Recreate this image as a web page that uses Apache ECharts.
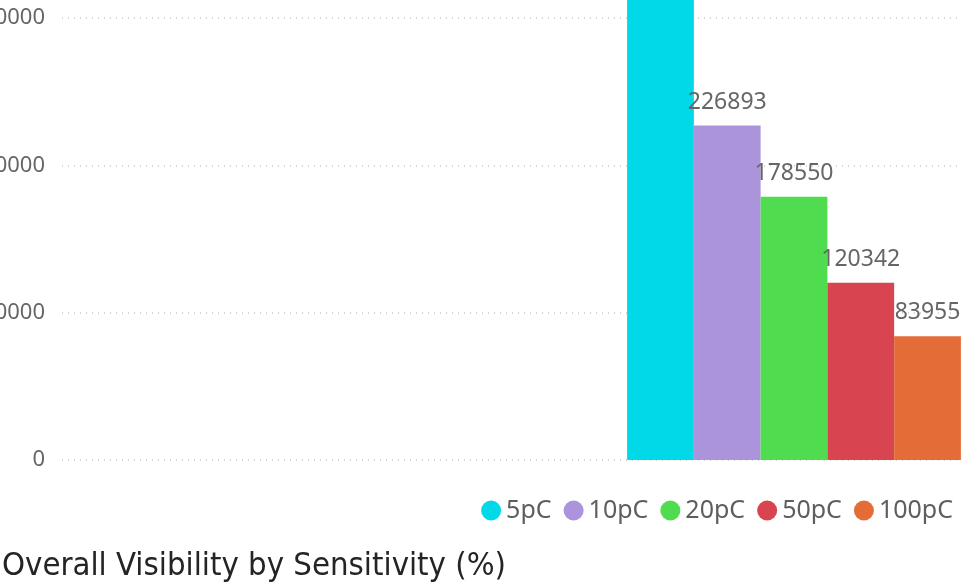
<!DOCTYPE html>
<html>
<head>
<meta charset="utf-8">
<script src="https://cdn.jsdelivr.net/npm/echarts@6/dist/echarts.min.js"></script>
<style>
  html, body { margin: 0; padding: 0; background: #fff; }
  #chart { width: 962px; height: 588px; }
</style>
</head>
<body>
<div id="chart"></div>
<script>
// 数据
const categories = ['Overall']
const seriesNames = ['5pC', '10pC', '20pC', '50pC', '100pC']
const seriesValues = [[345000], [226893], [178550], [120342], [83955]]
const seriesColors = ['#01d9e8', '#ab94dc', '#4fdd4f', '#d84450', '#e46c37']

const chart = echarts.init(document.getElementById('chart'))

const option = {
  animation: false,
  textStyle: { fontFamily: 'Noto Sans' },
  title: {
    text: 'Overall Visibility by Sensitivity (%)',
    left: -3,
    top: 545,
    textStyle: {
      fontFamily: 'DejaVu Sans Condensed',
      fontSize: 32.6,
      fontWeight: 'normal',
      color: '#252423'
    }
  },
  legend: {
    data: seriesNames,
    right: 4,
    top: 493,
    icon: 'circle',
    itemWidth: 20,
    itemHeight: 20,
    itemGap: 12,
    textStyle: { fontSize: 25, color: '#605e5c' }
  },
  grid: {
    left: 62,
    right: -564,
    top: -129.5,
    bottom: 128,
    containLabel: false,
    outerBoundsMode: 'none'
  },
  xAxis: {
    type: 'category',
    data: categories,
    axisLine: { show: false },
    axisTick: { show: false },
    axisLabel: { show: false }
  },
  yAxis: {
    type: 'value',
    min: 0,
    max: 400000,
    interval: 100000,
    axisLabel: {
      fontSize: 22,
      color: '#666',
      margin: 17,
      formatter: (v) => String(v)
    },
    splitLine: {
      lineStyle: { type: [1, 5], color: '#c8c8c8', width: 1.5 }
    }
  },
  series: seriesNames.map((name, i) => ({
    name: name,
    type: 'bar',
    data: seriesValues[i],
    barGap: '0%',
    barCategoryGap: '77.2%',
    itemStyle: { color: seriesColors[i] },
    label: {
      show: true,
      position: 'top',
      distance: 12,
      fontSize: 23,
      color: '#666'
    }
  }))
}

chart.setOption(option)
</script>
</body>
</html>
